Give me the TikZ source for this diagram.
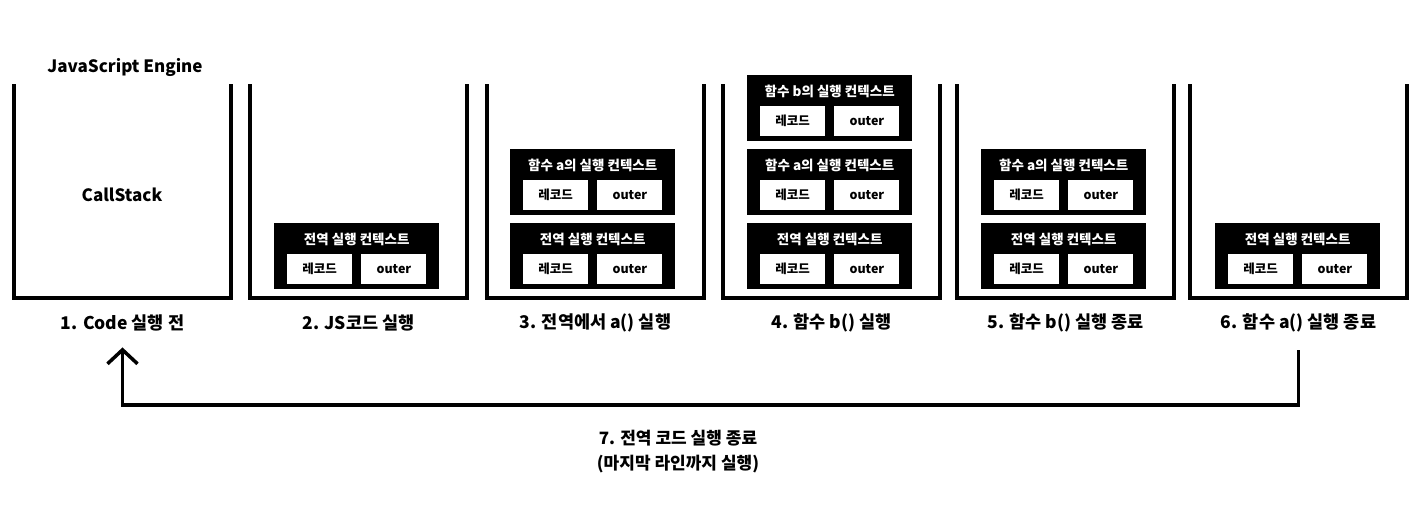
\documentclass[tikz,border=0pt]{standalone}
\usepackage{fontspec}
\setmainfont{Noto Sans CJK KR}
\usepackage{tikz}
\usetikzlibrary{positioning}
\usetikzlibrary{arrows.meta,calc}

\tikzset{
  stack/.style={line width=4pt, line join=miter},
  ctx/.style={fill=black, anchor=north west, minimum width=165pt, minimum height=66pt, inner sep=0pt},
  ctxtitle/.style={text=white, font=\fontsize{13.5}{15}\selectfont\bfseries, inner sep=0pt},
  slot/.style={fill=white, minimum width=65pt, minimum height=30pt, inner sep=0pt, font=\fontsize{12.5}{14}\selectfont\bfseries},
  step label/.style={font=\fontsize{17.5}{20}\selectfont\bfseries, inner sep=2pt},
  flow/.style={line width=3.5pt, -{Straight Barb[length=14pt,width=30pt,line width=3.5pt]}}
}

% context box: name, left x, top y, title
\newcommand{\ctxbox}[4]{%
  \node[ctx] (#1) at (#2,#3) {};
  \node[ctxtitle] (#1-t) at ([yshift=-16pt]#1.north) {#4};
  \node[slot] (#1-rec) at ([xshift=45.5pt,yshift=-46pt]#1.north west) {레코드};
  \node[slot] (#1-out) [right=9pt of #1-rec] {outer};
}

\begin{document}
\begin{tikzpicture}[x=1pt,y=-1pt]
  \useasboundingbox (0,0) rectangle (1424,517);

  % the six call stacks
  \foreach \n/\x/\txt in {1/14/1. Code 실행 전, 2/250/2. JS코드 실행,
      3/487/3. 전역에서 a() 실행, 4/723/4. 함수 b() 실행,
      5/957/5. 함수 b() 실행 종료, 6/1190/6. 함수 a() 실행 종료} {
    \draw[stack] (\x,84) -- (\x,298) -- (\x+217,298) -- (\x+217,84);
    \node[step label] (lab\n) at (\x+108.5,323) {\txt};
  }

  \node[font=\fontsize{17}{20}\selectfont\bfseries] (engine) at (125,67) {JavaScript Engine};
  \node[font=\fontsize{17}{20}\selectfont\bfseries] (callstack) at (122,195) {CallStack};

  % 2
  \ctxbox{g2}{274}{223}{전역 실행 컨텍스트}
  % 3
  \ctxbox{a3}{510}{149}{함수 a의 실행 컨텍스트}
  \ctxbox{g3}{510}{223}{전역 실행 컨텍스트}
  % 4
  \ctxbox{b4}{747}{75}{함수 b의 실행 컨텍스트}
  \ctxbox{a4}{747}{149}{함수 a의 실행 컨텍스트}
  \ctxbox{g4}{747}{223}{전역 실행 컨텍스트}
  % 5
  \ctxbox{a5}{981}{149}{함수 a의 실행 컨텍스트}
  \ctxbox{g5}{981}{223}{전역 실행 컨텍스트}
  % 6
  \ctxbox{g6}{1215}{223}{전역 실행 컨텍스트}

  % back to the start
  \coordinate (turn) at (lab6.south |- 0,405);
  \draw[flow, shorten <=16pt, shorten >=14pt] (lab6.south) -- (turn) -| (lab1.south);

  \node[step label, font=\fontsize{17}{25}\selectfont\bfseries, align=center] (finish) at (678,452)
    {7. 전역 코드 실행 종료\\(마지막 라인까지 실행)};
\end{tikzpicture}
\end{document}
